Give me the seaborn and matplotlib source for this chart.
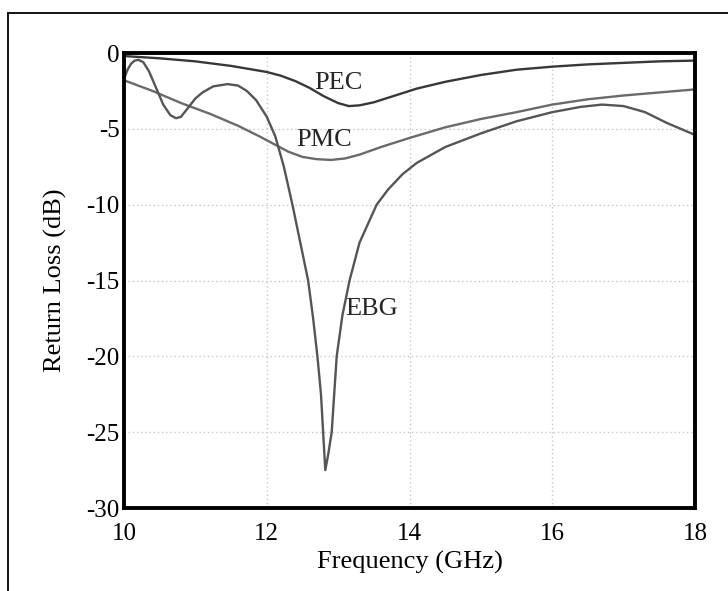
import numpy as np
import pandas as pd
import matplotlib.pyplot as plt
import matplotlib.lines as mlines
import seaborn as sns

pec_freq = [10.0, 10.5, 11.0, 11.5, 12.0, 12.2, 12.4, 12.6, 12.8, 13.0, 13.15, 13.3, 13.5,
            13.8, 14.1, 14.5, 15.0, 15.5, 16.0, 16.5, 17.0, 17.5, 18.0]
pec_loss = [-0.2, -0.35, -0.55, -0.85, -1.25, -1.5, -1.85, -2.3, -2.85, -3.3, -3.5, -3.45, -3.25,
            -2.8, -2.35, -1.9, -1.45, -1.1, -0.9, -0.75, -0.65, -0.55, -0.5]

pmc_freq = [10.0, 10.4, 10.8, 11.2, 11.6, 11.9, 12.1, 12.3, 12.5, 12.7, 12.9, 13.1, 13.3,
            13.6, 14.0, 14.5, 15.0, 15.5, 16.0, 16.5, 17.0, 17.5, 18.0]
pmc_loss = [-1.8, -2.5, -3.3, -4.0, -4.8, -5.5, -6.0, -6.5, -6.85, -7.0, -7.05, -6.95, -6.7,
            -6.2, -5.6, -4.9, -4.35, -3.9, -3.4, -3.05, -2.8, -2.6, -2.4]

ebg_freq = [10.0, 10.05, 10.1, 10.15, 10.2, 10.27, 10.35, 10.45, 10.55, 10.65, 10.73, 10.8,
            10.9, 11.0, 11.1, 11.25, 11.45, 11.6, 11.72, 11.85, 12.0, 12.12, 12.24, 12.36,
            12.47, 12.58, 12.65, 12.71, 12.76, 12.79, 12.82, 12.86, 12.91, 12.98, 13.06,
            13.16, 13.3, 13.54, 13.7, 13.9, 14.1, 14.5, 15.0, 15.5, 16.0, 16.4, 16.7,
            17.0, 17.3, 17.6, 18.0]
ebg_loss = [-1.7, -1.1, -0.7, -0.5, -0.45, -0.6, -1.2, -2.3, -3.4, -4.1, -4.3, -4.2,
            -3.6, -3.0, -2.6, -2.2, -2.05, -2.15, -2.5, -3.1, -4.2, -5.5, -7.5, -10.0,
            -12.5, -15.0, -17.5, -20.0, -22.5, -25.0, -27.5, -26.5, -25.0, -20.0, -17.3,
            -15.0, -12.5, -10.0, -9.0, -8.0, -7.25, -6.2, -5.3, -4.5, -3.9, -3.55, -3.4,
            -3.5, -3.9, -4.6, -5.4]

x_ticks = [10, 12, 14, 16, 18]
y_ticks = [0, -5, -10, -15, -20, -25, -30]

df = pd.concat([
    pd.DataFrame({'freq': pec_freq, 'loss': pec_loss, 'case': 'PEC'}),
    pd.DataFrame({'freq': pmc_freq, 'loss': pmc_loss, 'case': 'PMC'}),
    pd.DataFrame({'freq': ebg_freq, 'loss': ebg_loss, 'case': 'EBG'}),
])

sns.set_theme(style="white")
plt.rcParams['font.family'] = ['Liberation Serif', 'DejaVu Serif']
plt.rcParams['axes.unicode_minus'] = False

fig = plt.figure(figsize=(7.28, 5.91), dpi=100)
ax = fig.add_axes([0.1703, 0.1404, 0.7844, 0.7699])

colors = {'PEC': '#383838', 'PMC': '#6a6a6a', 'EBG': '#555555'}
sns.lineplot(data=df, x='freq', y='loss', hue='case', palette=colors,
             sort=False, estimator=None, linewidth=1.7, legend=False, ax=ax)

ax.set_xlim(10, 18)
ax.set_ylim(-30, 0)
ax.set_xticks(x_ticks)
ax.set_yticks(y_ticks)
ax.grid(True, linestyle=(0, (1, 2)), color='#c8c8c8', linewidth=1.0)
ax.tick_params(axis='both', length=0, labelsize=18, colors='black')
ax.tick_params(axis='x', pad=11)
ax.tick_params(axis='y', pad=3)
for s in ax.spines.values():
    s.set_visible(True)
    s.set_color('black')
    s.set_linewidth(2.8)

ax.set_xlabel('Frequency (GHz)', fontsize=19, color='black', labelpad=4)
ax.set_ylabel('Return Loss (dB)', fontsize=19, color='black', labelpad=14)

# curve labels
ax.text(13.0, -2.0, 'PEC', fontsize=19, ha='center', va='center')
ax.text(12.81, -5.75, 'PMC', fontsize=19, ha='center', va='center')
ax.text(13.47, -16.9, 'EBG', fontsize=19, ha='center', va='center')

# outer frame (left and top edges only visible)
fig.add_artist(mlines.Line2D([8 / 728, 8 / 728], [0, 1 - 13 / 591],
                             color='black', linewidth=1.3, transform=fig.transFigure))
fig.add_artist(mlines.Line2D([8 / 728, 1], [1 - 13 / 591, 1 - 13 / 591],
                             color='black', linewidth=1.3, transform=fig.transFigure))

fig.savefig('out.png', dpi=100)
